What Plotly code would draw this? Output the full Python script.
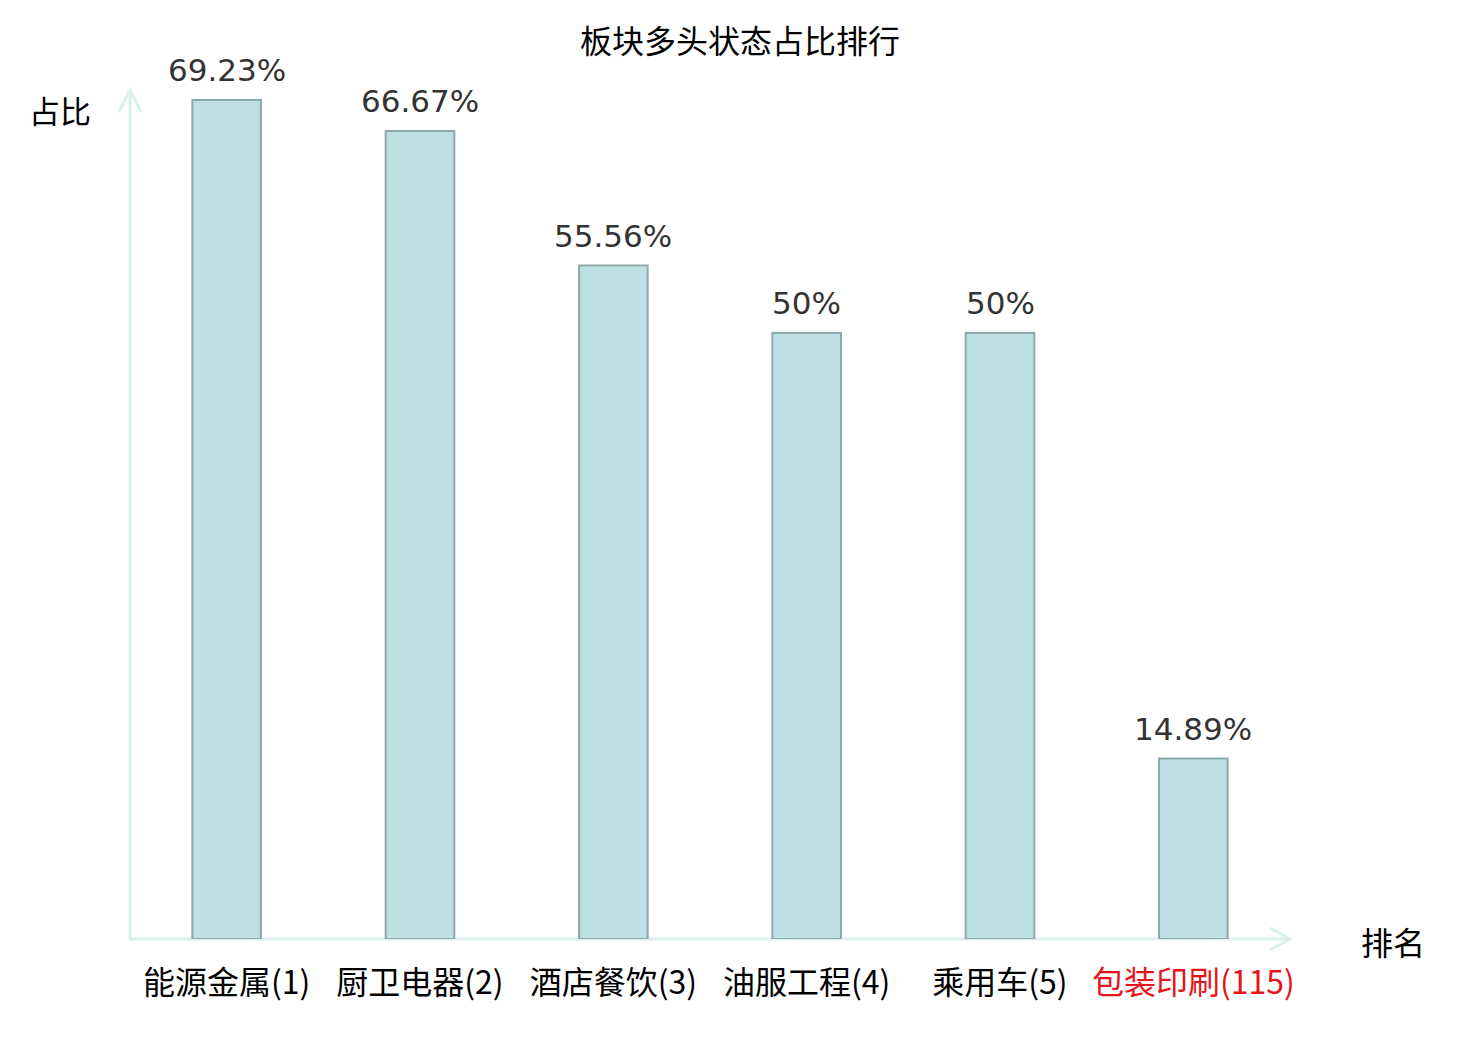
import plotly.graph_objects as go

categories = ["能源金属(1)", "厨卫电器(2)", "酒店餐饮(3)", "油服工程(4)", "乘用车(5)", "包装印刷(115)"]
values = [69.23, 66.67, 55.56, 50, 50, 14.89]
value_labels = ["69.23%", "66.67%", "55.56%", "50%", "50%", "14.89%"]
highlight = [False, False, False, False, False, True]

tick_text = [f'<span style="color:#e8141c">{c}</span>' if h else c for c, h in zip(categories, highlight)]

CJK = "Noto Sans CJK SC"
AXIS_COLOR = "#dcf1ee"
PAGE_OFFSET = 8  # default body margin of the html page

W, H = 1480 - PAGE_OFFSET, 1040 - PAGE_OFFSET
xs = list(range(len(categories)))

fig = go.Figure()
fig.add_trace(go.Bar(
    x=xs,
    y=values,
    width=0.355,
    marker=dict(color="#bce0e3", line=dict(color="#8ea9aa", width=2)),
    cliponaxis=False,
    hoverinfo="skip",
))

for x, v, lab in zip(xs, values, value_labels):
    fig.add_annotation(x=x, y=v, xref="x", yref="y", text=lab, showarrow=False,
                       xanchor="center", yanchor="middle", yshift=30,
                       font=dict(family="DejaVu Sans", size=31, color="#333333"))

fig.update_layout(
    width=W, height=H,
    margin=dict(l=130 - PAGE_OFFSET, r=190, t=90 - PAGE_OFFSET, b=101),
    paper_bgcolor="white", plot_bgcolor="white",
    showlegend=False,
    title=dict(text="板块多头状态占比排行", x=(740 - PAGE_OFFSET) / W, xanchor="center",
               y=1 - (42 - PAGE_OFFSET) / H, yanchor="middle", yref="container",
               font=dict(family=CJK, size=32, color="#000000")),
    xaxis=dict(range=[-0.5, 5.5], tickmode="array", tickvals=xs,
               ticktext=tick_text, showgrid=False, zeroline=False, showline=False,
               ticks="", ticklabelstandoff=22,
               tickfont=dict(family=CJK, size=32, color="#000000")),
    yaxis=dict(range=[0, 70.05], showgrid=False, zeroline=False, showline=False,
               showticklabels=False, ticks=""),
)

# axis lines with open arrowheads
fig.add_shape(type="line", xref="paper", yref="paper", x0=0, x1=1, y0=0, y1=0,
              line=dict(color=AXIS_COLOR, width=3), layer="below")
fig.add_shape(type="line", xref="paper", yref="paper", x0=0, x1=0, y0=0, y1=1,
              line=dict(color=AXIS_COLOR, width=3), layer="below")
fig.add_shape(type="path", xref="paper", yref="paper", xsizemode="pixel", ysizemode="pixel",
              xanchor=1, yanchor=0, path="M-20,11 L0,0 L-20,-11",
              line=dict(color=AXIS_COLOR, width=3), layer="below")
fig.add_shape(type="path", xref="paper", yref="paper", xsizemode="pixel", ysizemode="pixel",
              xanchor=0, yanchor=1, path="M-11,-22 L0,0 L11,-22",
              line=dict(color=AXIS_COLOR, width=3), layer="below")

fig.add_annotation(text="占比", xref="paper", yref="paper", x=0, y=(939 - 110) / 849,
                   xanchor="right", yanchor="middle", xshift=-37, showarrow=False,
                   font=dict(family=CJK, size=31, color="#000000"))
fig.add_annotation(text="排名", xref="paper", yref="paper", x=(1359 - 130) / 1160, y=0,
                   xanchor="left", yanchor="middle", yshift=-2, showarrow=False,
                   font=dict(family=CJK, size=32, color="#000000"))

fig.write_html("out.html")
